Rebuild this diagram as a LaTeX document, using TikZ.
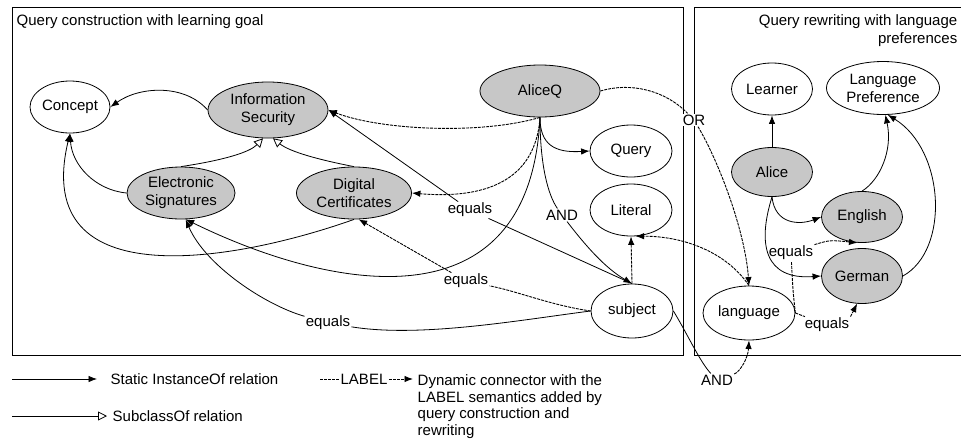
\documentclass[tikz,border=0pt]{standalone}
\usepackage{fontspec}
\setmainfont{Liberation Sans}
\usetikzlibrary{arrows.meta}
\usetikzlibrary{shapes,positioning,calc}

\begin{document}
\begin{tikzpicture}[x=1pt, y=-1pt, >={Latex[length=8.5pt,width=6.5pt]}, line width=.8pt,
		font=\fontsize{15}{18}\selectfont,
		cls/.style={ellipse, draw, inner sep=0pt, align=center},
		inst/.style={ellipse, draw, fill=black!22, inner sep=0pt, align=center},
		dyn/.style={dash pattern=on 3pt off 1pt, line width=.9pt},
		sub/.style={-{Triangle[open,length=9pt,width=9pt]}},
		lbl/.style={fill=white, inner sep=1pt}]
			\useasboundingbox (0,0) rectangle (961,445);
			\draw (12,7) rectangle (683,355);
			\draw (970,7) -- (694,7) -- (694,355) -- (970,355);
			\node[anchor=west] (ltitle) at (13,22) {Query construction with learning goal};
			\node[anchor=east, align=right] (rtitle) at (961,31) {Query rewriting with language\\preferences};
			
			\node[cls, minimum width=80pt, minimum height=52pt] (concept) at (70,107) {Concept};
			\node[inst, minimum width=120pt, minimum height=56pt] (infosec) at (268,110) {Information\\Security};
			\node[inst, minimum width=108pt, minimum height=52pt] (elsig) at (181,193) {Electronic\\Signatures};
			\node[inst, minimum width=115pt, minimum height=52pt] (digcert) at (354,193) {Digital\\Certificates};
			\node[inst, minimum width=120pt, minimum height=52pt] (aliceq) at (540,91) {AliceQ};
			\node[cls, minimum width=82pt, minimum height=52pt] (query) at (631,151) {Query};
			\node[cls, minimum width=82pt, minimum height=52pt] (literal) at (631,210) {Literal};
			\node[cls, minimum width=82pt, minimum height=54pt] (subject) at (632,311) {subject};
			\node[cls, minimum width=92pt, minimum height=54pt] (language) at (749,313) {language};
			\node[cls, minimum width=81pt, minimum height=52pt] (learner) at (772,89) {Learner};
			\node[cls, minimum width=113pt, minimum height=53pt] (langpref) at (883,88) {Language\\Preference};
			\node[inst, minimum width=81pt, minimum height=49pt] (alice) at (772,172) {Alice};
			\node[inst, minimum width=81pt, minimum height=51pt] (english) at (862,217) {English};
			\node[inst, minimum width=81pt, minimum height=55pt] (german) at (862,276) {German};
			
			\node[lbl] (eqis) at (470,210) {equals};
			\node[lbl] (eqdc) at (466,281) {equals};
			\node[lbl] (eqes) at (328,323) {equals};
			\node[lbl] (andq) at (562,215) {AND};
			\node[lbl] (orl) at (694,120) {OR};
			\node[lbl] (andl) at (717,380) {AND};
			\node[lbl] (eqen) at (791,253) {equals};
			\node[lbl] (eqge) at (827,325) {equals};
			
			\draw[->] (infosec.west) .. controls (185,84) and (140,86) .. (concept.east);
			\draw[->] (elsig.west) .. controls (95,190) and (72,165) .. (concept.south);
			\draw[->] (digcert.south) .. controls (240,260) and (30,300) .. (concept.south);
			\draw[sub] (elsig.north) .. controls (225,160) and (250,152) .. (infosec.-100);
			\draw[sub] (digcert.north) .. controls (320,160) and (290,152) .. (infosec.-80);
			
			\draw[dyn,->] (aliceq.south) .. controls (480,135) and (380,130) .. (infosec.east);
			\draw[dyn,->] (aliceq.south) .. controls (535,190) and (470,198) .. (digcert.east);
			\draw[->] (aliceq.south) .. controls (530,330) and (330,290) .. (elsig.-80);
			\draw[->] (aliceq.south) .. controls (540,145) and (555,153) .. (query.west);
			\draw (aliceq.south) .. controls (540,165) and (548,195) .. (andq);
			\draw[->] (andq) .. controls (585,245) and (605,268) .. (subject.north);
			
			\draw[->] (eqis) -- (infosec.east);
			\draw (subject.north) -- (eqis);
			\draw[dyn,->] (eqdc) -- (digcert.-80);
			\draw[dyn] (subject.west) .. controls (550,305) and (520,292) .. (eqdc);
			\draw (subject.west) .. controls (520,320) and (420,338) .. (eqes);
			\draw[->] (eqes) .. controls (265,305) and (205,265) .. (elsig.-80);
			\draw[dyn,->] (subject.north) -- (literal.south);
			\draw[dyn,->] (language.north) .. controls (725,250) and (680,236) .. (literal.-80);
			\draw[dyn] (aliceq.east) .. controls (630,82) and (665,90) .. (orl);
			\draw[dyn,->] (orl) .. controls (718,160) and (745,230) .. (language.north);
			\draw (subject.east) .. controls (688,335) and (700,362) .. (andl);
			\draw[dyn,->] (andl) .. controls (740,372) and (748,358) .. (language.south);
			
			\draw[->] (alice) -- (learner);
			\draw[->] (alice.south) .. controls (775,225) and (800,225) .. (english.west);
			\draw[->] (alice.south) .. controls (757,245) and (765,280) .. (german.west);
			\draw[->] (english.north) .. controls (880,180) and (893,150) .. (langpref.-85);
			\draw[->] (german.east) .. controls (950,250) and (945,150) .. (langpref.-80);
			\draw[dyn] (language.east) .. controls (793,292) .. (eqen);
			\draw[dyn,->] (eqen.north east) .. controls (830,240) .. (english.-100);
			\draw[dyn] (language.east) -- (eqge);
			\draw[dyn,->] (eqge.north east) -- (german.-100);
			
			\coordinate (li) at (12,379);
			\node[anchor=west] (leginst) at (107,379) {Static InstanceOf relation};
			\draw[->, shorten >=10pt] (li) -- (leginst);
			\coordinate (ls) at (12,416);
			\node[anchor=west] (legsub) at (109,416) {SubclassOf relation};
			\draw[sub, shorten >=2pt] (ls) -- (legsub);
			\coordinate (ld) at (320,379);
			\coordinate (ldend) at (413,379);
			\node[lbl] (leglab) at (364,379) {LABEL};
			\draw[dyn] (ld) -- (leglab);
			\draw[dyn,->] (leglab) -- (ldend);
			\node[anchor=north west, align=left, font=\fontsize{15}{16.5}\selectfont] (legdyn) at (414,371) {Dynamic connector with the\\LABEL semantics added by\\query construction and\\rewriting};
		\end{tikzpicture}
\end{document}
